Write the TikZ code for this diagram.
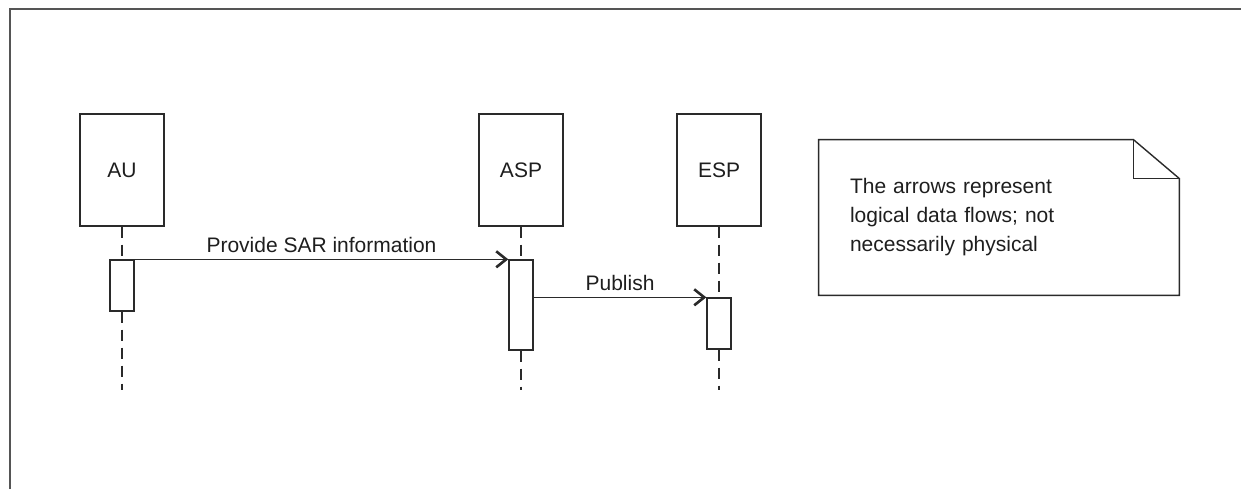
\documentclass[tikz,border=0pt]{standalone}
\usepackage{fontspec}
\setmainfont{Liberation Sans}
\usetikzlibrary{arrows.meta}
\definecolor{linegray}{HTML}{2A2A2A}
\definecolor{framegray}{HTML}{555555}
\definecolor{textgray}{HTML}{1E1E1E}
\tikzset{
    lifebox/.style = {draw=linegray, fill=white, line width=0.7pt, rectangle, minimum width=42pt, minimum height=56pt, text=textgray, font=\fontsize{10.5}{12.5}\selectfont},
    actbar/.style = {draw=linegray, fill=white, line width=0.7pt, rectangle, minimum width=12pt, inner sep=0pt},
    lifeline/.style = {draw=linegray, line width=0.7pt, dash pattern=on 5.5pt off 3.5pt},
    msg/.style = {draw=linegray, line width=0.7pt, -{Straight Barb[length=5pt,width=8pt,line width=1.3pt]}},
    msg-label/.style = {above, inner sep=3pt, text=textgray, font=\fontsize{10.5}{12.5}\selectfont},
    note-box/.style = {rectangle, minimum width=180pt, minimum height=77.5pt, inner xsep=15.5pt, text width=149pt, align=left, text=textgray, font=\fontsize{10.5}{14.5}\selectfont},
    note-line/.style = {draw=linegray, line width=0.7pt},
}
\begin{document}
\begin{tikzpicture}[x=0.5pt, y=-0.5pt]
\useasboundingbox (0,0) rectangle (1241,489);
% frame, cut off at the right and bottom
\draw[framegray, line width=1pt] (10,489) |- (1241,9);

% participants
\node[lifebox] (au) at (122,170) {AU};
\node[lifebox] (asp) at (521,170) {ASP};
\node[lifebox] (esp) at (719,170) {ESP};

% activations
\node[actbar, minimum height=25.5pt] (auact) at (122,285.5) {};
\node[actbar, minimum height=45pt] (aspact) at (521,305) {};
\node[actbar, minimum height=25.5pt] (espact) at (719,323.5) {};

\coordinate (auend) at (122,390);
\coordinate (aspend) at (521,390);
\coordinate (espend) at (719,390);

% lifelines
\draw[lifeline] (au.south) -- (auact.north);
\draw[lifeline] (auact.south) -- (auend);
\draw[lifeline] (asp.south) -- (aspact.north);
\draw[lifeline] (aspact.south) -- (aspend);
\draw[lifeline] (esp.south) -- (espact.north);
\draw[lifeline] (espact.south) -- (espend);

% messages
\draw[msg] (auact.north east) -- (aspact.north west) node[msg-label, midway] {Provide SAR information};
\draw[msg] (aspact.east |- espact.north) -- (espact.north west) node[msg-label, midway] {Publish};

% note
\node[note-box] (note) at (999,217.5) {The arrows represent\\logical data flows; not\\necessarily physical};
\draw[note-line] (note.south west) -- (note.north west) -- ([xshift=-23pt]note.north east) -- ([yshift=-19.5pt]note.north east) -- (note.south east) -- cycle;
\draw[note-line] ([xshift=-23pt]note.north east) |- ([yshift=-19.5pt]note.north east);
\end{tikzpicture}
\end{document}
